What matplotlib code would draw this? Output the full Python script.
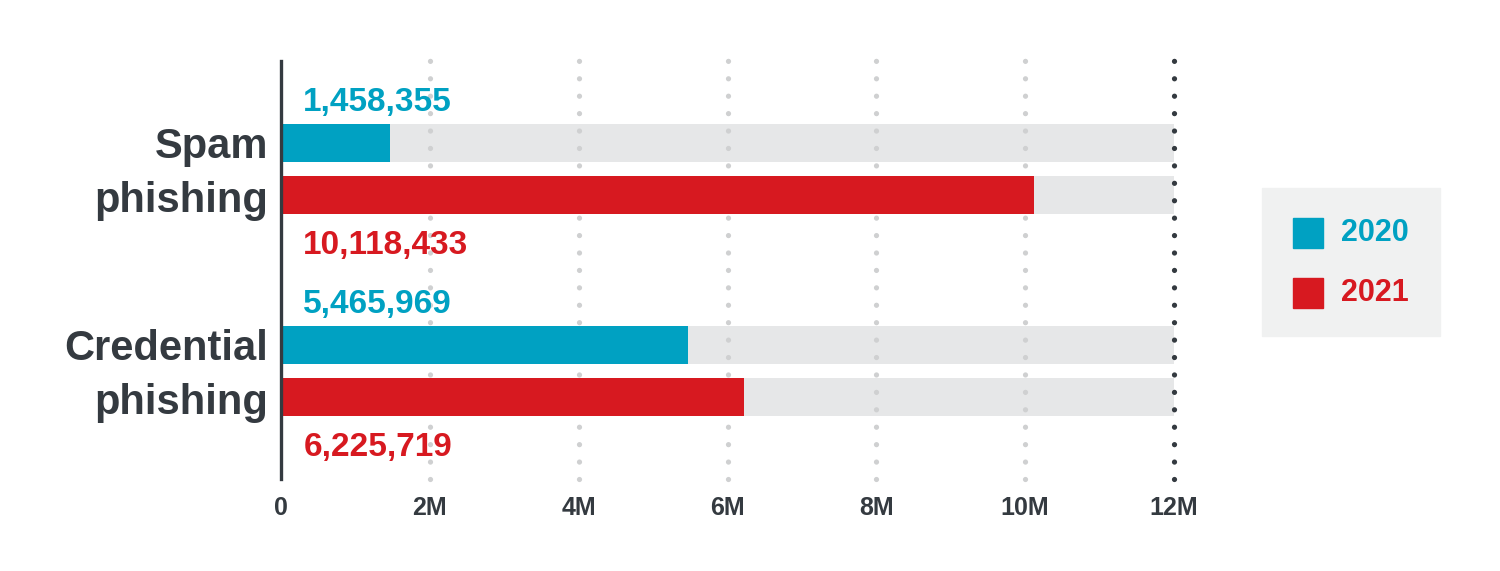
import matplotlib
matplotlib.use("Agg")
import matplotlib.pyplot as plt
from matplotlib.patches import Rectangle

plt.rcParams['font.family'] = ['Liberation Sans', 'DejaVu Sans']

categories = ['Spam\nphishing', 'Credential\nphishing']
years = ['2020', '2021']
values_2020 = [1458355, 5465969]
values_2021 = [10118433, 6225719]
x_max = 12000000
tick_values = [0, 2000000, 4000000, 6000000, 8000000, 10000000, 12000000]
tick_labels = ['0', '2M', '4M', '6M', '8M', '10M', '12M']

blue = '#00a1c2'
red = '#d71920'
dark = '#343a40'
bg_bar = '#e6e7e8'

fig = plt.figure(figsize=(15, 5.71), dpi=100)
W, H = 1500, 571
ax = fig.add_axes([281 / W, 1 - 479 / H, (1174 - 281) / W, (479 - 61) / H])

off = 0.1275
h = 0.188
centers = list(range(len(categories)))
y20 = [c - off for c in centers]
y21 = [c + off for c in centers]

# grey full-length tracks
ax.barh(y20 + y21, [x_max] * 4, height=h, color=bg_bar, zorder=1)
# dotted gridlines
dots = (0, (0.001, 3.30))
for t in tick_values[1:-1]:
    ax.axvline(t, ymin=0, ymax=1.01, color='#cfd0d1', lw=3.8, linestyle=dots,
               dash_capstyle='round', zorder=2, clip_on=False)
ax.axvline(x_max, ymin=0, ymax=1.01, color=dark, lw=3.8, linestyle=dots,
           dash_capstyle='round', zorder=5, clip_on=False)

ax.barh(y20, values_2020, height=h, color=blue, zorder=3)
ax.barh(y21, values_2021, height=h, color=red, zorder=3)

ax.set_xlim(0, x_max)
ax.set_ylim(1.535, -0.535)

px = 1 / 202.0  # data units per pixel (vertical)
for y, v in zip(y20, values_2020):
    ax.text(300000, y - h / 2 - 13 * px, f'{v:,}', color=blue, fontsize=24,
            fontweight='bold', ha='left', va='baseline')
for y, v in zip(y21, values_2021):
    ax.text(300000, y + h / 2 + 40 * px, f'{v:,}', color=red, fontsize=24,
            fontweight='bold', ha='left', va='baseline')

for c, lab in zip(centers, categories):
    ax.text(-13 / 893 * x_max, c + 5 * px, lab, color=dark, fontsize=30,
            fontweight='bold', ha='right', va='center', linespacing=1.45)

ax.set_yticks([])
ax.set_xticks(tick_values)
ax.set_xticklabels(tick_labels, fontsize=18, fontweight='bold', color=dark)
ax.tick_params(axis='x', length=0, pad=12)
for s in ['top', 'right', 'bottom']:
    ax.spines[s].set_visible(False)
ax.spines['left'].set_color(dark)
ax.spines['left'].set_linewidth(2.4)
ax.spines['left'].set_zorder(6)

# legend box
fig.patches.append(Rectangle((1262 / W, 1 - 336 / H), 178 / W, 148 / H,
                             transform=fig.transFigure, color='#f0f1f1', zorder=0))
for i, (yr, col) in enumerate(zip(years, [blue, red])):
    yc = 233 + 60 * i
    fig.patches.append(Rectangle((1293 / W, 1 - (yc + 15) / H), 30 / W, 30 / H,
                                 transform=fig.transFigure, color=col, zorder=1))
    fig.text(1341 / W, 1 - yc / H, yr, color=col, fontsize=22, fontweight='bold',
             ha='left', va='center')

fig.savefig('out.png', dpi=100, facecolor='white')
